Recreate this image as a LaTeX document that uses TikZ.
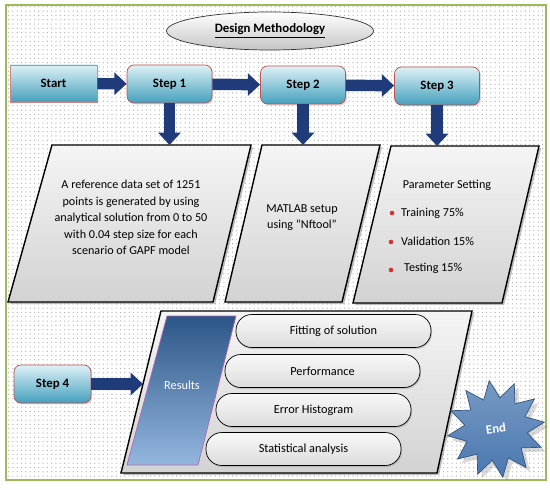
\documentclass[tikz,border=0pt]{standalone}
\usepackage{fontspec}
\setmainfont{Carlito}
\usetikzlibrary{arrows.meta,shapes.geometric,patterns.meta,shadows,positioning}

\definecolor{framegreen}{HTML}{9BBB59}
\definecolor{edgered}{HTML}{C0504D}
\definecolor{arrownavy}{HTML}{1F3B7A}
\definecolor{steplight}{HTML}{DDF1F6}
\definecolor{stepdark}{HTML}{44A0BD}
\definecolor{resdark}{HTML}{2C5687}
\definecolor{reslight}{HTML}{93B6DE}
\definecolor{endblue}{HTML}{4A78B0}
\definecolor{dotred}{HTML}{D9302C}

\tikzdeclarepattern{
    name=finedots,
    type=uncolored,
    bottom left={(-0.5pt,-0.5pt)},
    top right={(0.5pt,0.5pt)},
    tile size={(2.45pt,2.45pt)},
    code={\fill (0,0) circle (0.38pt);}
}

\begin{document}
\begin{tikzpicture}[
        stepbox/.style={
            draw=edgered,
            rounded corners=4pt,
            minimum width=1.7cm,
            minimum height=0.76cm,
            top color=steplight,
            bottom color=stepdark,
            font=\fontsize{7.3}{8}\selectfont\bfseries,
            drop shadow={opacity=0.3, shadow xshift=0.8pt, shadow yshift=-0.8pt}
        },
        flow/.style={
            -{Triangle[length=7pt,width=12.5pt]},
            line width=6.5pt,
            draw=arrownavy
        },
        panel/.style={
            draw=black,
            thick,
            top color=gray!8,
            bottom color=gray!35,
            drop shadow={opacity=0.5, shadow xshift=1.2pt, shadow yshift=-1.2pt}
        },
        pill/.style={
            draw=black,
            rounded corners=9pt,
            minimum width=3.9cm,
            minimum height=0.66cm,
            top color=gray!5,
            bottom color=gray!28,
            font=\fontsize{7}{8}\selectfont,
            drop shadow={opacity=0.35, shadow xshift=0.6pt, shadow yshift=-0.9pt}
        },
        body/.style={
            font=\fontsize{6.9}{9.3}\selectfont,
            align=center
        },
        bullet/.style={
            circle,
            fill=dotred,
            inner sep=0pt,
            minimum size=2.6pt
        }
    ]

    \useasboundingbox (0,0) rectangle (11,9.78);
    \draw[draw=framegreen, line width=1.3pt, pattern=finedots, pattern color=gray!60] (0.12,0.18) rectangle (10.92,9.68);

    % title
    \node[ellipse, draw=black!80, top color=white, bottom color=gray!45, minimum width=4.14cm, minimum height=0.76cm, font=\fontsize{7.3}{8}\selectfont\bfseries] (title) at (5.4,9.16) {\underline{Design Methodology}};

    % top row
    \node[stepbox, rounded corners=0pt, minimum width=1.74cm, minimum height=0.74cm, draw=edgered!70] (start) at (1.07,8.11) {Start};
    \node[stepbox] (step1) at (3.39,8.10) {Step 1};
    \node[stepbox] (step2) at (6.06,8.08) {Step 2};
    \node[stepbox] (step3) at (8.74,8.06) {Step 3};

    \draw[flow] (start) -- (step1);
    \draw[flow] (step1) -- (step2);
    \draw[flow] (step2) -- (step3);

    % middle panels
    \draw[panel] (0.16,3.74) -- (1.04,6.88) -- (5.02,6.88) -- (4.26,3.74) -- cycle;
    \draw[panel] (4.5,3.74) -- (5.24,6.88) -- (7.6,6.88) -- (6.84,3.74) -- cycle;
    \draw[panel] (7.06,3.72) -- (7.82,6.86) -- (10.78,6.86) -- (10.04,3.72) -- cycle;

    \coordinate (in1) at (3.39,6.88);
    \coordinate (in2) at (6.06,6.88);
    \coordinate (in3) at (8.74,6.86);
    \draw[flow] (step1) -- (in1);
    \draw[flow] (step2) -- (in2);
    \draw[flow] (step3) -- (in3);

    \node[body] (refdata) at (2.62,5.43) {A reference data set of 1251\\points is generated by using\\analytical solution from 0 to 50\\with 0.04 step size for each\\scenario of GAPF model};
    \node[body] (matlab) at (6.04,5.43) {MATLAB setup\\using “Nftool”};

    \node[body] (param) at (8.94,6.08) {Parameter Setting};
    \node[body, anchor=west] (train) at (7.9,5.52) {Training 75\%};
    \node[body, anchor=west] (valid) at (7.9,4.96) {Validation 15\%};
    \node[body, anchor=west] (test) at (7.96,4.42) {Testing 15\%};
    \node[bullet] (b1) at (7.84,5.52) {};
    \node[bullet] (b2) at (7.82,4.94) {};
    \node[bullet] (b3) at (7.82,4.38) {};

    % bottom part
    \node[stepbox, minimum width=1.54cm] (step4) at (1.05,2.1) {Step 4};
    \draw[panel] (2.42,0.32) -- (3.22,3.56) -- (9.44,3.56) -- (8.74,0.32) -- cycle;
    \coordinate (in4) at (2.86,2.1);
    \draw[flow] (step4) -- (in4);

    \draw[draw=violet!60, top color=resdark, bottom color=reslight] (2.54,0.48) -- (3.34,3.46) -- (4.72,3.46) -- (3.96,0.48) -- cycle;
    \node[font=\fontsize{7}{8}\selectfont, text=white] (results) at (3.64,2.08) {Results};

    \node[pill] (fit) at (6.67,3.16) {Fitting of solution};
    \node[pill] (perf) at (6.45,2.36) {Performance};
    \node[pill] (hist) at (6.27,1.58) {Error Histogram};
    \node[pill] (stat) at (6.07,0.8) {Statistical analysis};

    \node[star, star points=12, star point ratio=1.55, minimum size=1.95cm, rotate=8, draw=endblue!70!black, top color=endblue!75, bottom color=endblue, text=white, font=\fontsize{7.3}{8}\selectfont\bfseries, drop shadow={opacity=0.3}] (finish) at (9.92,1.2) {End};

\end{tikzpicture}
\end{document}
